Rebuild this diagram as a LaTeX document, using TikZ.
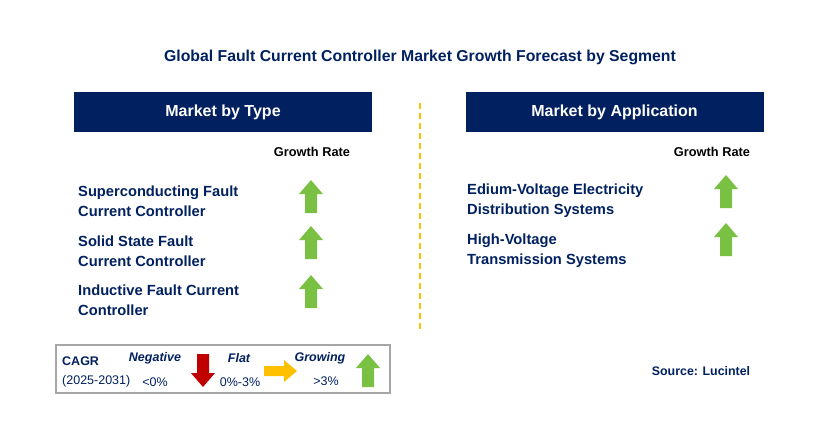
\documentclass[tikz,border=0pt]{standalone}
\usepackage{fontspec}
\setmainfont{Liberation Sans}
\definecolor{navy}{HTML}{002060}
\definecolor{upgreen}{HTML}{7AC143}
\definecolor{downred}{HTML}{C00000}
\definecolor{flatyel}{HTML}{FFC000}
\newcommand{\growarrow}[2]{% centre x, top y
  \fill[upgreen] (#1,#2) -- ++(12,14) -- ++(-6,0) -- ++(0,19) -- ++(-12,0) -- ++(0,-19) -- ++(-6,0) -- cycle;}
\begin{document}
\begin{tikzpicture}[x=1pt,y=-1pt,
  head/.style={fill=navy,text=white,font=\bfseries\fontsize{16}{19}\selectfont,minimum width=298pt,minimum height=40pt,inner sep=0pt},
  item/.style={text=navy,font=\bfseries\fontsize{14.7}{20}\selectfont,align=left,anchor=west,inner sep=0pt},
  rate/.style={font=\bfseries\fontsize{12.8}{15}\selectfont},
  leg/.style={font=\fontsize{12.5}{15}\selectfont,text=navy,inner sep=0pt}]
\useasboundingbox (0,0) rectangle (829,440);
\node[text=navy,font=\bfseries\fontsize{15.8}{19}\selectfont] (title) at (420,57) {Global Fault Current Controller Market Growth Forecast by Segment};
\node[head] (type) at (223,112) {Market by Type};
\node[head] (app) at (614.5,112) {Market by Application};
\coordinate (dtop) at (420,103);
\coordinate (dbot) at (420,333);
\draw[flatyel,line width=1.5pt,dash pattern=on 6pt off 4pt] (dtop) -- (dbot);
\node[rate] (rl) at (312,152) {Growth Rate};
\node[rate] (rr) at (712,152) {Growth Rate};
% type segments
\node[item] (t1) at (78,201) {Superconducting Fault\\Current Controller};
\node[item] (t2) at (78,251) {Solid State Fault\\Current Controller};
\node[item] (t3) at (78,300) {Inductive Fault Current\\Controller};
\growarrow{311}{180}
\growarrow{311}{226}
\growarrow{311}{275}
% application segments
\node[item] (a1) at (467,201) {Edium-Voltage Electricity\\Distribution Systems};
\node[item] (a2) at (467,251) {High-Voltage\\Transmission Systems};
\growarrow{726}{175}
\growarrow{726}{223}
% legend
\draw[gray!70,line width=1.2pt] (56,345) rectangle (390,393);
\node[leg,font=\bfseries\fontsize{12.5}{15}\selectfont,anchor=west] (cagr) at (62,361) {CAGR};
\node[leg,anchor=west] (yrs) at (62,381) {(2025-2031)};
\node[leg,font=\bfseries\itshape\fontsize{12.5}{15}\selectfont] (neg) at (155,358) {Negative};
\node[leg] (lneg) at (155,382) {<0\%};
\node[leg,font=\bfseries\itshape\fontsize{12.5}{15}\selectfont] (flat) at (239,358) {Flat};
\node[leg] (lflat) at (240,382) {0\%-3\%};
\node[leg,font=\bfseries\itshape\fontsize{12.5}{15}\selectfont] (grow) at (320,358) {Growing};
\node[leg] (lgrow) at (326,381) {>3\%};
\fill[downred] (203,387) -- ++(-12,-14) -- ++(6,0) -- ++(0,-19) -- ++(12,0) -- ++(0,19) -- ++(6,0) -- cycle;
\fill[flatyel] (297,371) -- ++(-13,-11) -- ++(0,6) -- ++(-20,0) -- ++(0,10) -- ++(20,0) -- ++(0,6) -- cycle;
\growarrow{368}{354}
\node[text=navy,font=\bfseries\fontsize{12.4}{15}\selectfont] (src) at (701,371) {Source: Lucintel};
\end{tikzpicture}
\end{document}
